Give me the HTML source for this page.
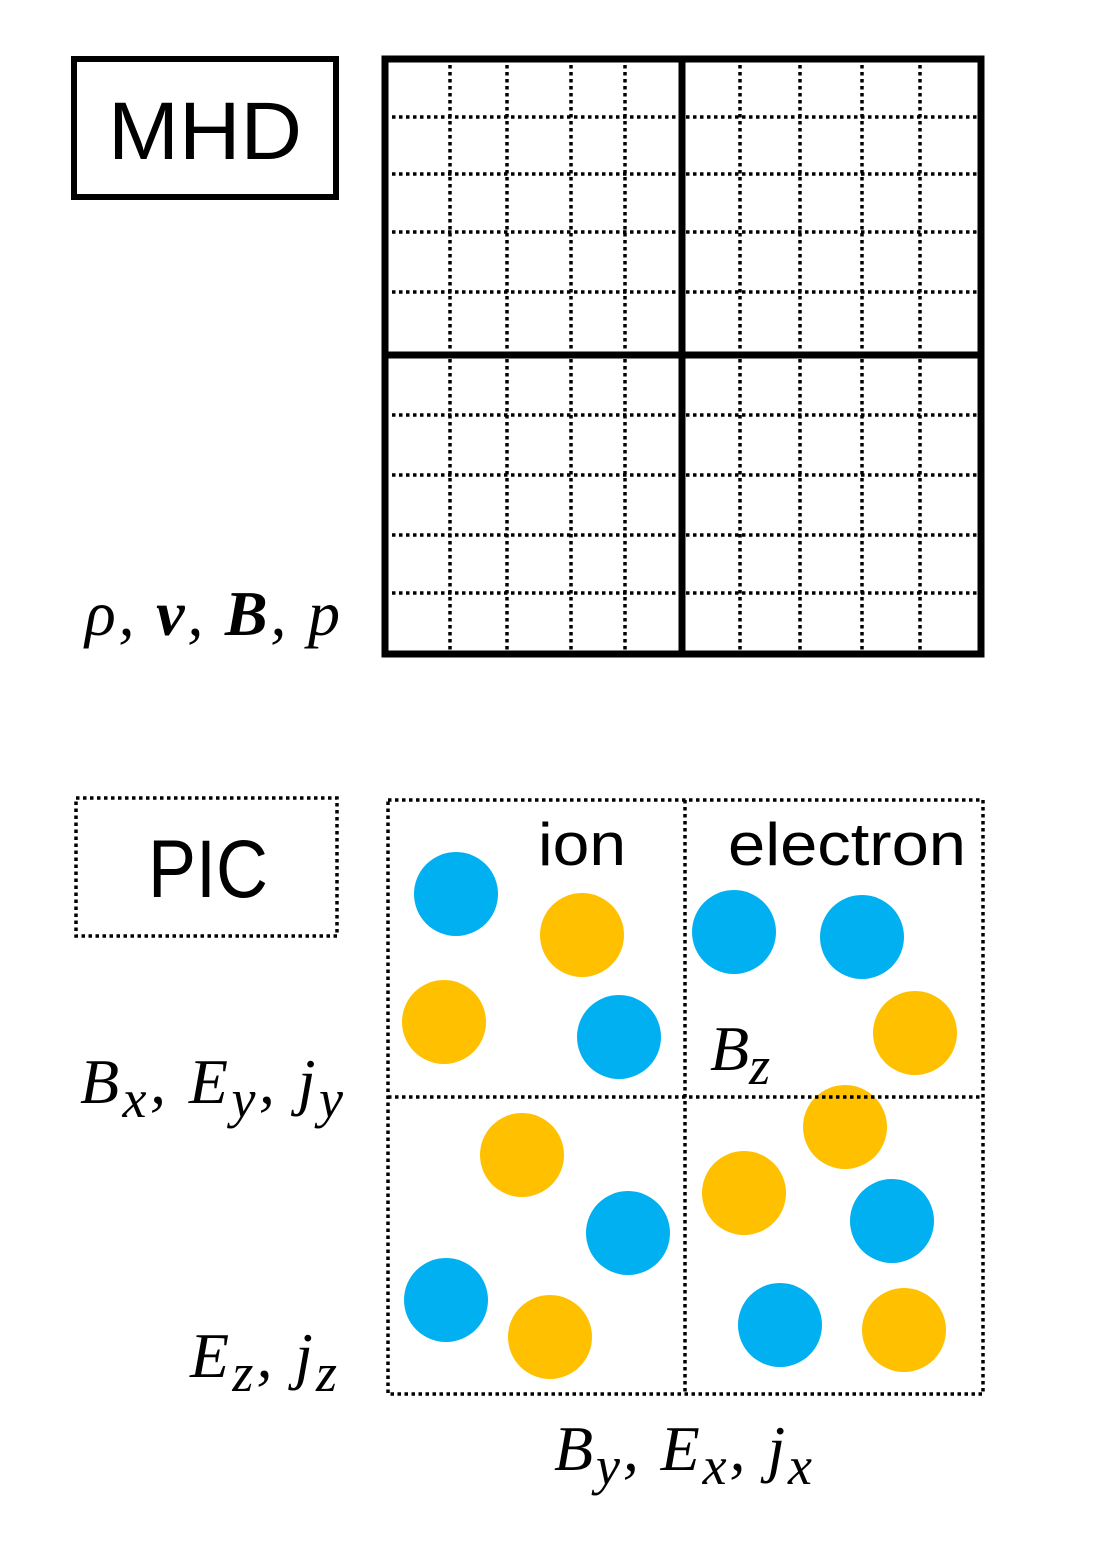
<!DOCTYPE html>
<html><head><meta charset="utf-8"><style>
html,body{margin:0;padding:0;background:#fff;}
svg{display:block;}
.m{font-family:"Liberation Serif",serif;font-style:italic;}
.s{font-family:"Liberation Sans",sans-serif;}
</style></head><body>
<svg width="1094" height="1551" viewBox="0 0 1094 1551" xmlns="http://www.w3.org/2000/svg">
<rect x="74" y="59" width="262" height="138" fill="none" stroke="#000" stroke-width="6"/>
<text x="108" y="159" class="s" font-size="82" textLength="194" lengthAdjust="spacingAndGlyphs">MHD</text>
<g stroke="#000" stroke-width="3.5" stroke-dasharray="3.5 3.5" fill="none">
<path d="M450 58V655M507 58V655M571 58V655M625 58V655M740 58V655M800 58V655M862 58V655M920 58V655"/>
<path d="M385 117H983M385 174H983M385 232H983M385 292H983M385 415H983M385 475H983M385 535H983M385 593H983"/>
</g>
<rect x="385" y="59" width="596" height="595" fill="none" stroke="#000" stroke-width="7"/>
<path d="M682 59V654M385 355H981" stroke="#000" stroke-width="7"/>
<text x="85" y="635" class="m" font-size="64" textLength="255" lengthAdjust="spacing">ρ, <tspan font-weight="bold">v</tspan>, <tspan font-weight="bold">B</tspan>, p</text>
<rect x="76" y="798" width="261" height="138" fill="none" stroke="#000" stroke-width="3.5" stroke-dasharray="3.5 3.5"/>
<text x="148" y="897" class="s" font-size="82" textLength="120" lengthAdjust="spacingAndGlyphs">PIC</text>
<g fill="#00B0F0">
<circle cx="456" cy="894" r="42"/><circle cx="619" cy="1037" r="42"/><circle cx="734" cy="932" r="42"/><circle cx="862" cy="937" r="42"/>
<circle cx="628" cy="1233" r="42"/><circle cx="892" cy="1221" r="42"/><circle cx="446" cy="1300" r="42"/><circle cx="780" cy="1325" r="42"/>
</g>
<g fill="#FFC000">
<circle cx="582" cy="935" r="42"/><circle cx="444" cy="1022" r="42"/><circle cx="915" cy="1033" r="42"/><circle cx="845" cy="1127" r="42"/>
<circle cx="522" cy="1155" r="42"/><circle cx="744" cy="1193" r="42"/><circle cx="550" cy="1337" r="42"/><circle cx="904" cy="1330" r="42"/>
</g>
<g stroke="#000" stroke-width="3.5" stroke-dasharray="3.5 3.5" fill="none">
<rect x="388" y="800" width="595" height="594"/>
<path d="M685 800V1394M388 1097H983"/>
</g>
<text x="538" y="865" class="s" font-size="60" textLength="88" lengthAdjust="spacingAndGlyphs">ion</text>
<text x="728" y="865" class="s" font-size="60" textLength="238" lengthAdjust="spacingAndGlyphs">electron</text>
<text x="710" y="1070" class="m" font-size="64">B<tspan font-size="54" dy="14">z</tspan></text>
<text x="80" y="1103" class="m" font-size="64" textLength="263" lengthAdjust="spacing">B<tspan font-size="54" dy="14">x</tspan><tspan dy="-14">, E</tspan><tspan font-size="54" dy="14">y</tspan><tspan dy="-14">, j</tspan><tspan font-size="54" dy="14">y</tspan></text>
<text x="190" y="1377" class="m" font-size="64" textLength="147" lengthAdjust="spacing">E<tspan font-size="54" dy="14">z</tspan><tspan dy="-14">, j</tspan><tspan font-size="54" dy="14">z</tspan></text>
<text x="554" y="1470" class="m" font-size="64" textLength="258" lengthAdjust="spacing">B<tspan font-size="54" dy="14">y</tspan><tspan dy="-14">, E</tspan><tspan font-size="54" dy="14">x</tspan><tspan dy="-14">, j</tspan><tspan font-size="54" dy="14">x</tspan></text>
</svg>
</body></html>
